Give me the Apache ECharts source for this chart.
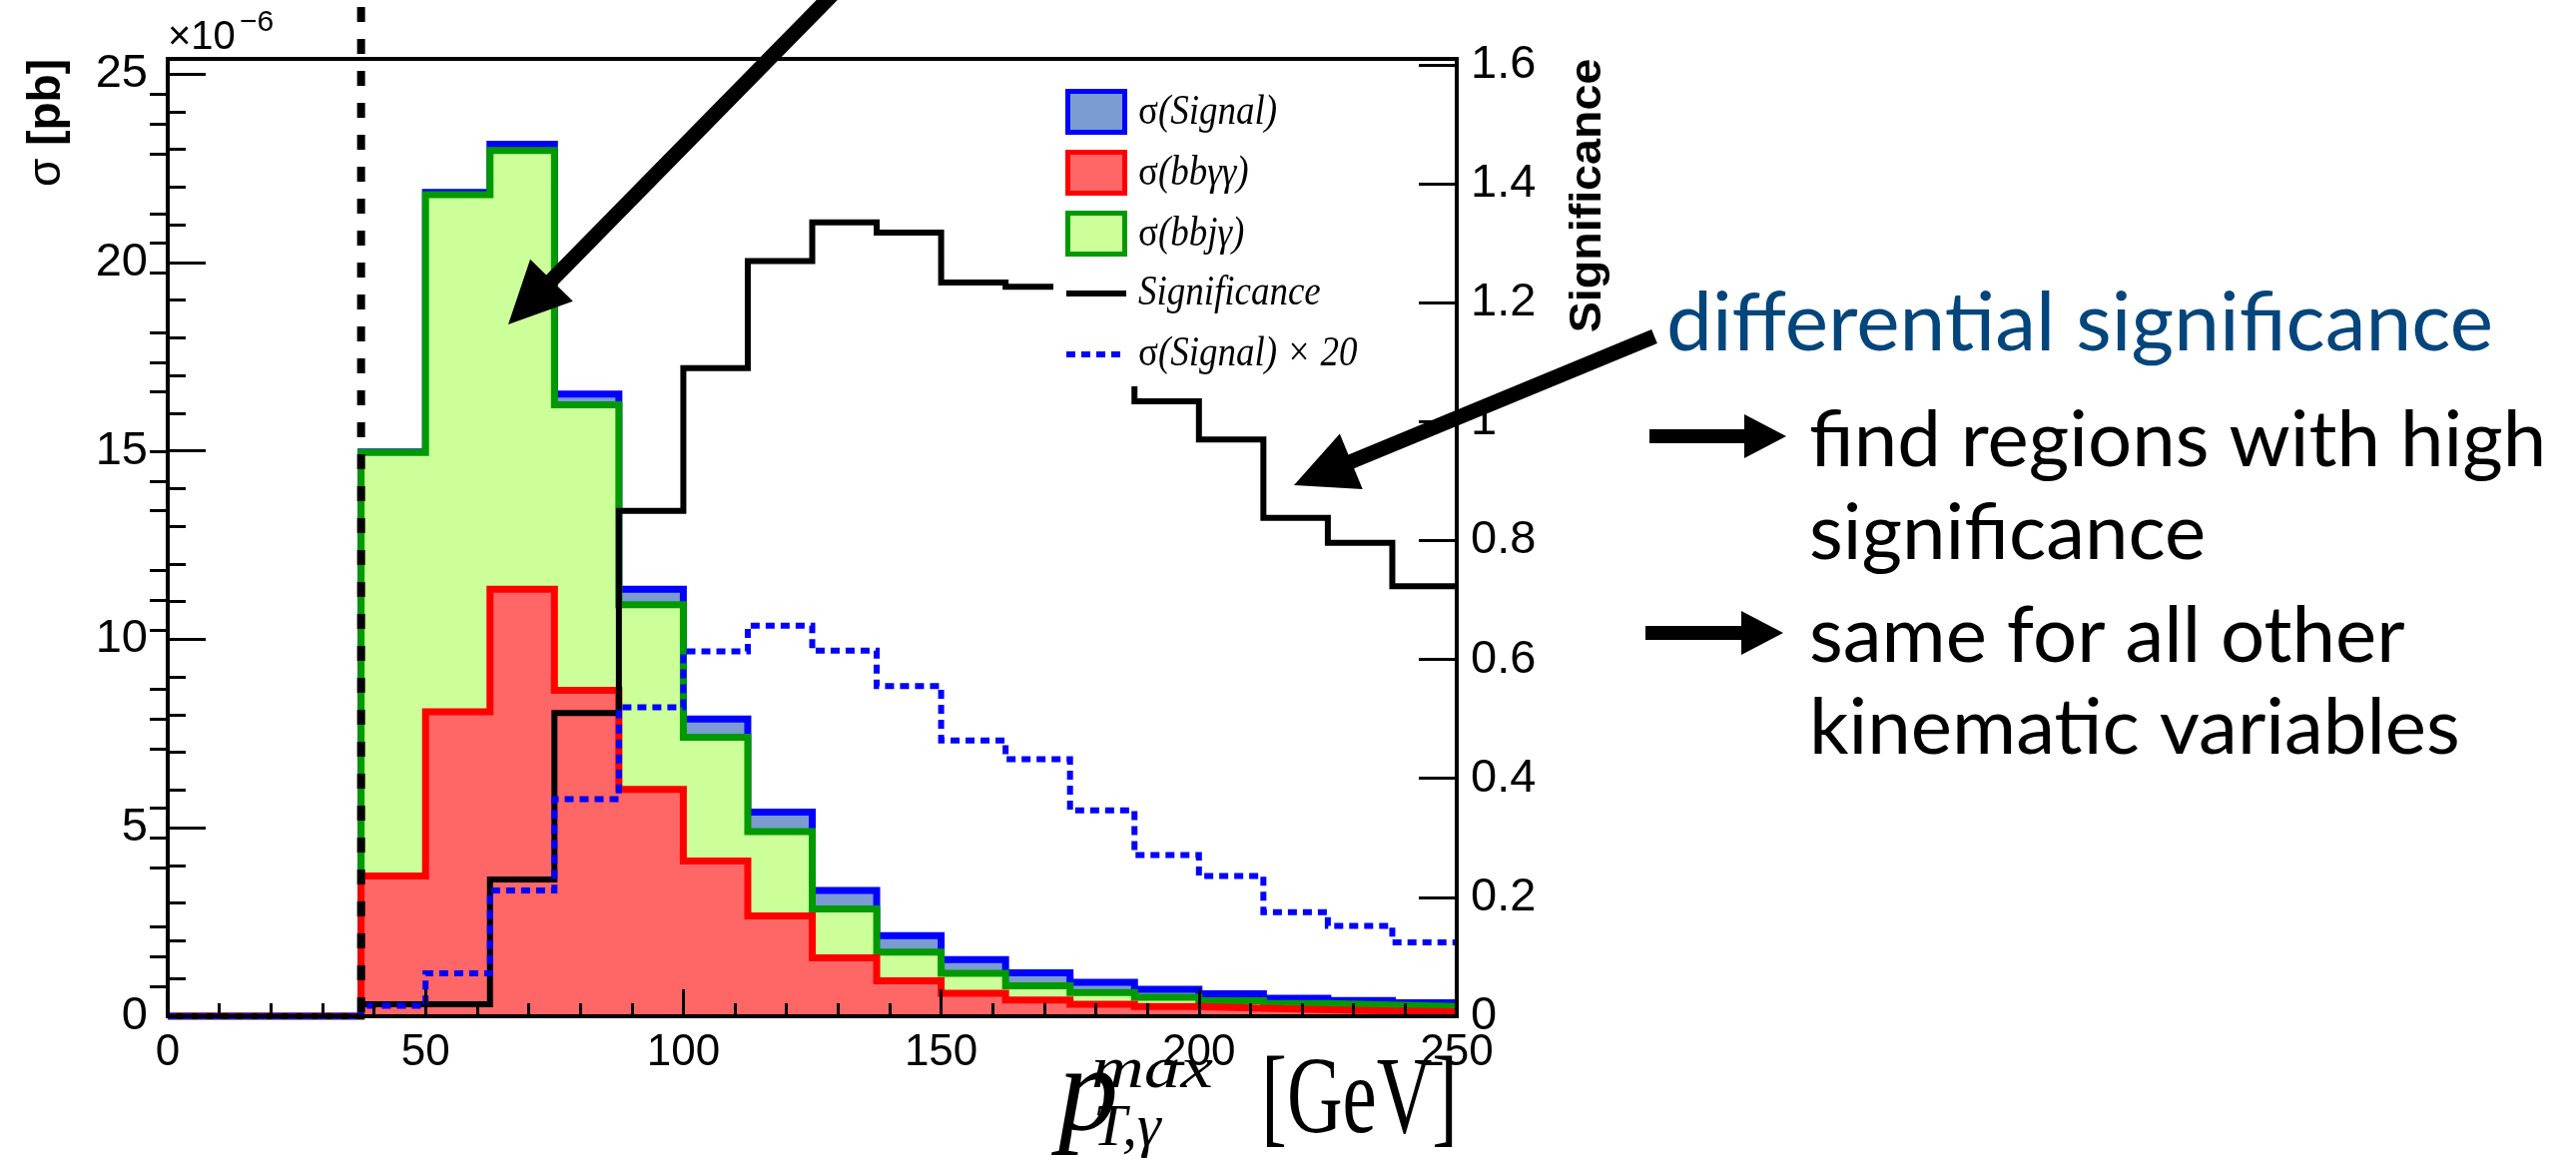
<!DOCTYPE html>
<html>
<head>
<meta charset="utf-8">
<script src="https://cdn.jsdelivr.net/npm/echarts@6/dist/echarts.min.js"></script>
<style>
  html, body { margin: 0; padding: 0; background: #ffffff; }
  #chart { width: 2580px; height: 1168px; }
</style>
</head>
<body>
<div id="chart"></div>
<script>
// Histogram binning in p_T^max of the leading photon [GeV]
const binEdges = [0, 12.5, 25, 37.5, 50, 62.5, 75, 87.5, 100, 112.5, 125, 137.5,
                  150, 162.5, 175, 187.5, 200, 212.5, 225, 237.5, 250];

// Cross sections per bin [x 10^-6 pb]
const sigmaBBAA   = [0, 0, 0, 3.72, 8.08, 11.33, 8.65, 6.02, 4.12, 2.66, 1.55, 0.94,
                     0.61, 0.43, 0.32, 0.26, 0.21, 0.17, 0.14, 0.12];
const sigmaBBJA   = [0, 0, 0, 11.24, 13.72, 11.64, 7.57, 4.90, 3.28, 2.24, 1.30, 0.76,
                     0.53, 0.38, 0.31, 0.24, 0.20, 0.17, 0.16, 0.14];
const sigmaSignal = [0, 0, 0, 0.014, 0.057, 0.167, 0.288, 0.410, 0.484, 0.518, 0.485, 0.438,
                     0.366, 0.341, 0.273, 0.214, 0.186, 0.138, 0.120, 0.098];
const signalScale = 20;

// Differential significance per bin
const significance = [0, 0, 0, 0.02, 0.02, 0.23, 0.51, 0.85, 1.09, 1.27, 1.335, 1.318,
                      1.234, 1.227, 1.15, 1.034, 0.970, 0.838, 0.796, 0.723];

// Photon p_T cut
const cutValue = 37.5;

// Axis ticks
const xTicks = [0, 50, 100, 150, 200, 250];
const xMinorTicks = [10, 20, 30, 40, 60, 70, 80, 90, 110, 120, 130, 140,
                     160, 170, 180, 190, 210, 220, 230, 240];
const sigmaTicks = [0, 5, 10, 15, 20, 25];
const sigmaMinorTicks = [1, 2, 3, 4, 6, 7, 8, 9, 11, 12, 13, 14, 16, 17, 18, 19, 21, 22, 23, 24];
const signifTicks = [0, 0.2, 0.4, 0.6, 0.8, 1.0, 1.2, 1.4, 1.6];
const signifMinorTicks = [0.05, 0.1, 0.15, 0.25, 0.3, 0.35, 0.45, 0.5, 0.55, 0.65, 0.7, 0.75,
                          0.85, 0.9, 0.95, 1.05, 1.1, 1.15, 1.25, 1.3, 1.35, 1.45, 1.5, 1.55];

// ---- helpers ----
function stepPoints(values) {
  const pts = values.map((v, i) => [binEdges[i], v]);
  pts.push([binEdges[binEdges.length - 1], values[values.length - 1]]);
  return pts;
}
function addArrays(a, b) { return a.map((v, i) => v + b[i]); }

const stackGreen = addArrays(sigmaBBAA, sigmaBBJA);
const stackTotal = addArrays(stackGreen, sigmaSignal);
const signalScaled = sigmaSignal.map(v => v * signalScale);

function arrowPoints(x0, y0, x1, y1, shaft, headLen, headWidth) {
  const dx = x1 - x0, dy = y1 - y0, L = Math.hypot(dx, dy);
  const ux = dx / L, uy = dy / L, nx = -uy, ny = ux;
  const bx = x1 - ux * headLen, by = y1 - uy * headLen;
  const s = shaft / 2, h = headWidth / 2;
  return [
    [x0 + nx * s, y0 + ny * s], [bx + nx * s, by + ny * s], [bx + nx * h, by + ny * h],
    [x1, y1],
    [bx - nx * h, by - ny * h], [bx - nx * s, by - ny * s], [x0 - nx * s, y0 - ny * s]
  ];
}

const SANS = '"Liberation Sans", Arial, Helvetica, sans-serif';
const NARROW = '"Liberation Sans Narrow", "Arial Narrow", "Liberation Sans", sans-serif';
const SERIF = '"Liberation Serif", "Times New Roman", serif';
const SLIDE = 'Lato, "Open Sans", sans-serif';

const tickLine = { color: '#000', width: 3 };
const xLabelStyle = { color: '#000', fontSize: 44, fontFamily: SANS };
const yLabelStyle = { color: '#000', fontSize: 47, fontFamily: NARROW };

function histSeries(name, values, lineColor, fillColor, z) {
  return {
    name, type: 'line', step: 'end', symbol: 'none', z,
    xAxisIndex: 0, yAxisIndex: 0,
    data: stepPoints(values),
    lineStyle: { color: lineColor, width: 7, cap: 'butt', join: 'miter' },
    areaStyle: { color: fillColor, opacity: 1, origin: 'start' },
    silent: true
  };
}

function legendText(rich, y, width) {
  return {
    type: 'text', z: 31, x: 1140, y, scaleX: 0.86,
    style: { text: rich, x: 0, y: 0, verticalAlign: 'middle',
      rich: { n: { font: '43px ' + SERIF, fill: '#000' }, i: { font: 'italic 43px ' + SERIF, fill: '#000' } } }
  };
}

const option = {
  animation: false,
  backgroundColor: '#ffffff',
  grid: {
    left: 168, right: 1121, top: 59, bottom: 150,
    show: true, borderColor: '#000', borderWidth: 4, backgroundColor: 'transparent'
  },
  xAxis: [
    {
      type: 'value', min: 0, max: 250, interval: 50, position: 'bottom', z: 10,
      axisLine: { show: true, onZero: false, lineStyle: { color: '#000', width: 4 } },
      axisTick: { show: true, inside: true, length: 27, lineStyle: tickLine, customValues: xTicks },
      axisLabel: Object.assign({ margin: 15, customValues: xTicks }, xLabelStyle),
      splitLine: { show: false }
    },
    {
      type: 'value', min: 0, max: 250, position: 'bottom', z: 10,
      axisLine: { show: false },
      axisTick: { show: true, inside: true, length: 13, lineStyle: tickLine, customValues: xMinorTicks },
      axisLabel: { show: false },
      splitLine: { show: false }
    }
  ],
  yAxis: [
    {
      type: 'value', min: 0, max: 25.4, position: 'left', z: 10,
      axisLine: { show: true, onZero: false, lineStyle: { color: '#000', width: 4 } },
      axisTick: { show: true, inside: true, length: 38, lineStyle: tickLine, customValues: sigmaTicks },
      axisLabel: Object.assign({ margin: 20, customValues: sigmaTicks }, yLabelStyle),
      splitLine: { show: false }
    },
    {
      type: 'value', min: 0, max: 1.61, position: 'right', z: 10,
      axisLine: { show: true, onZero: false, lineStyle: { color: '#000', width: 4 } },
      axisTick: { show: true, inside: true, length: 38, lineStyle: tickLine, customValues: signifTicks },
      axisLabel: Object.assign({
        margin: 14, customValues: signifTicks,
        formatter: v => String(Math.round(v * 10) / 10)
      }, yLabelStyle),
      splitLine: { show: false }
    },
    {
      type: 'value', min: 0, max: 25.4, position: 'left', z: 10,
      axisLine: { show: false },
      axisTick: { show: true, inside: true, length: 18, lineStyle: tickLine, customValues: sigmaMinorTicks },
      axisLabel: { show: false },
      splitLine: { show: false }
    },
    {
      type: 'value', min: 0, max: 1.61, position: 'right', z: 10,
      axisLine: { show: false },
      axisTick: { show: true, inside: true, length: 18, lineStyle: tickLine, customValues: signifMinorTicks },
      axisLabel: { show: false },
      splitLine: { show: false }
    }
  ],
  series: [
    histSeries('σ(Signal)', stackTotal, '#0000ff', '#7b9bd3', 2),
    histSeries('σ(bbjγ)', stackGreen, '#009a00', '#ccff99', 3),
    histSeries('σ(bbγγ)', sigmaBBAA, '#ff0000', '#ff6666', 4),
    {
      name: 'Significance', type: 'line', step: 'end', symbol: 'none', z: 5,
      xAxisIndex: 0, yAxisIndex: 1,
      data: stepPoints(significance),
      lineStyle: { color: '#000', width: 6, cap: 'butt', join: 'miter' },
      silent: true
    },
    {
      name: 'σ(Signal) × 20', type: 'line', step: 'end', symbol: 'none', z: 6,
      xAxisIndex: 0, yAxisIndex: 0,
      data: stepPoints(signalScaled),
      lineStyle: { color: '#0000ff', width: 6, type: [9, 6], cap: 'butt', join: 'miter' },
      silent: true
    },
    {
      name: 'cut', type: 'custom', z: 7, clip: false, silent: true,
      xAxisIndex: 0, yAxisIndex: 0,
      data: [[cutValue, 0]],
      renderItem: (params, api) => {
        const bottom = api.coord([api.value(0), api.value(1)]);
        const top = params.coordSys.y - 52;
        return {
          type: 'line',
          shape: { x1: bottom[0], y1: top, x2: bottom[0], y2: bottom[1] },
          style: { stroke: '#000', lineWidth: 8, lineDash: [15, 17] }
        };
      }
    }
  ],
  graphic: [
    // exponent of the cross-section axis
    { type: 'text', z: 20, style: { text: '×10', x: 168, y: 58, verticalAlign: 'bottom',
      font: '40px ' + SANS, fill: '#000' } },
    { type: 'text', z: 20, style: { text: '−6', x: 240, y: 38, verticalAlign: 'bottom',
      font: '30px ' + SANS, fill: '#000' } },
    // axis titles
    { type: 'text', z: 20, x: 47, y: 123, rotation: Math.PI / 2,
      style: { text: '{s|σ }{b|[pb]}', align: 'center', verticalAlign: 'middle',
        rich: { s: { font: '46px ' + SANS, fill: '#000' }, b: { font: 'bold 46px ' + SANS, fill: '#000' } } } },
    { type: 'text', z: 20, x: 1591, y: 196, rotation: Math.PI / 2, scaleX: 1.06,
      style: { text: 'Significance', align: 'center', verticalAlign: 'middle',
        font: 'bold 44px ' + SANS, fill: '#000' } },
    { type: 'text', z: 20, style: { text: 'p', x: 1060, y: 1140 - 0.338 * 120, verticalAlign: 'middle',
      font: 'italic 120px ' + SERIF, fill: '#000' } },
    { type: 'text', z: 20, x: 1093, y: 1094 - 0.338 * 60, scaleX: 1.22,
      style: { text: 'max', x: 0, y: 0, verticalAlign: 'middle', font: 'italic 60px ' + SERIF, fill: '#000' } },
    { type: 'text', z: 20, style: { text: 'T,γ', x: 1095, y: 1152 - 0.338 * 60, verticalAlign: 'middle',
      font: 'italic 60px ' + SERIF, fill: '#000' } },
    { type: 'text', z: 20, x: 1460, y: 1142 - 0.338 * 110, scaleX: 0.7,
      style: { text: '[GeV]', x: 0, y: 0, align: 'right', verticalAlign: 'middle',
        font: '110px ' + SERIF, fill: '#000' } },

    // legend
    { type: 'rect', z: 30, shape: { x: 1055, y: 74, width: 330, height: 313 },
      style: { fill: '#ffffff' } },
    { type: 'rect', z: 31, shape: { x: 1069.5, y: 91.5, width: 57, height: 41 },
      style: { fill: '#7b9bd3', stroke: '#0000ff', lineWidth: 5 } },
    { type: 'rect', z: 31, shape: { x: 1069.5, y: 152.5, width: 57, height: 41 },
      style: { fill: '#ff6666', stroke: '#ff0000', lineWidth: 5 } },
    { type: 'rect', z: 31, shape: { x: 1069.5, y: 213.5, width: 57, height: 41 },
      style: { fill: '#ccff99', stroke: '#009a00', lineWidth: 5 } },
    { type: 'line', z: 31, shape: { x1: 1068, y1: 294, x2: 1128, y2: 294 },
      style: { stroke: '#000', lineWidth: 6 } },
    { type: 'line', z: 31, shape: { x1: 1068, y1: 355, x2: 1128, y2: 355 },
      style: { stroke: '#0000ff', lineWidth: 6, lineDash: [9, 6] } },
    legendText('{n|σ}{i|(Signal)}', 113),
    legendText('{n|σ}{i|(bbγγ)}', 174),
    legendText('{n|σ}{i|(bbjγ)}', 235),
    legendText('{i|Significance}', 294),
    legendText('{n|σ}{i|(Signal) × 20}', 355),

    // annotation arrows
    { type: 'polygon', z: 40, shape: { points: arrowPoints(844, -16, 509, 325, 15, 62, 60) },
      style: { fill: '#000' } },
    { type: 'polygon', z: 40, shape: { points: arrowPoints(1657, 337, 1296, 486, 15, 62, 60) },
      style: { fill: '#000' } },
    { type: 'polygon', z: 40, shape: { points: arrowPoints(1652, 437, 1789, 437, 14, 42, 44) },
      style: { fill: '#000' } },
    { type: 'polygon', z: 40, shape: { points: arrowPoints(1648, 634, 1786, 634, 14, 42, 44) },
      style: { fill: '#000' } },

    // slide text
    { type: 'text', z: 40, style: { text: 'differential significance', x: 1669, y: 356 - 0.387 * 82,
      verticalAlign: 'middle', font: '82px ' + SLIDE, fill: '#04457c' } },
    { type: 'text', z: 40, style: { text: 'find regions with high', x: 1812, y: 472 - 0.387 * 78,
      verticalAlign: 'middle', font: '78px ' + SLIDE, fill: '#000' } },
    { type: 'text', z: 40, style: { text: 'significance', x: 1812, y: 565 - 0.387 * 78,
      verticalAlign: 'middle', font: '78px ' + SLIDE, fill: '#000' } },
    { type: 'text', z: 40, style: { text: 'same for all other', x: 1812, y: 668 - 0.387 * 78,
      verticalAlign: 'middle', font: '78px ' + SLIDE, fill: '#000' } },
    { type: 'text', z: 40, style: { text: 'kinematic variables', x: 1812, y: 760 - 0.387 * 78,
      verticalAlign: 'middle', font: '78px ' + SLIDE, fill: '#000' } }
  ]
};

const chart = echarts.init(document.getElementById('chart'), null, { renderer: 'canvas' });
chart.setOption(option);
</script>
</body>
</html>
